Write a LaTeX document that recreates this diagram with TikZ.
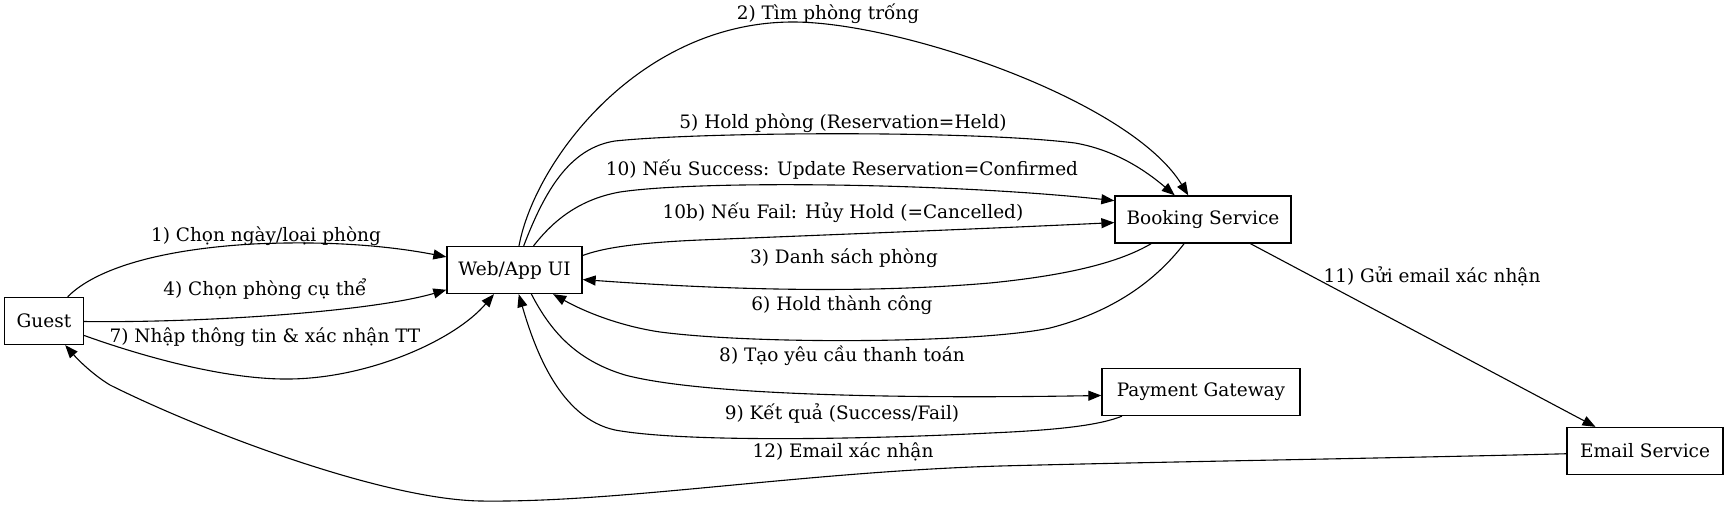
\documentclass[tikz,border=0pt]{standalone}
\usepackage{fontspec}
\setmainfont{DejaVu Serif}
\usetikzlibrary{arrows.meta}
\tikzset{
  box/.style={draw, line width=1.3pt, minimum height=47pt, inner sep=0pt, font=\fontsize{18.5}{20}\selectfont},
  edge/.style={-{Triangle[length=13pt,width=10pt]}, line width=1.1pt},
  lbl/.style={inner sep=0pt, font=\fontsize{18.5}{20}\selectfont}
}
\begin{document}
\begin{tikzpicture}[x=1pt,y=-1pt]
\useasboundingbox (0,0) rectangle (1728,508);
% nodes
\node[box, minimum width=79pt]  (guest)   at (44,321)     {Guest};
\node[box, minimum width=135pt] (web)     at (514.5,270)  {Web/App UI};
\node[box, minimum width=176pt] (booking) at (1203,219.5) {Booking Service};
\node[box, minimum width=198pt] (payment) at (1201,392)   {Payment Gateway};
\node[box, minimum width=156pt] (email)   at (1645,451)   {Email Service};
% edges
\draw[edge] (guest) .. controls (92,272) and (150,250) .. (253,244) .. controls (340,240) and (400,248) .. (web);
\draw[edge] (guest) .. controls (200,323) and (370,312) .. (web);
\draw[edge] (guest) .. controls (130,352) and (220,380) .. (290,379) .. controls (370,378) and (455,340) .. (web);
\draw[edge] (web) .. controls (535,160) and (640,22) .. (793,22) .. controls (900,22) and (1130,100) .. (booking);
\draw[edge] (web) .. controls (545,190) and (570,148) .. (615,141) .. controls (700,132) and (970,130) .. (1075,143) .. controls (1115,150) and (1145,170) .. (booking);
\draw[edge] (web) .. controls (550,225) and (575,200) .. (620,192) .. controls (700,180) and (950,183) .. (booking.168);
\draw[edge] (web.12) .. controls (600,249) and (630,243) .. (700,240) .. controls (850,234) and (1000,228) .. (booking.182);
\draw[edge] (booking.205) .. controls (1120,262) and (1070,275) .. (990,283) .. controls (850,295) and (700,288) .. (web.-8);
\draw[edge] (booking.232) .. controls (1160,275) and (1120,310) .. (1050,328) .. controls (980,343) and (760,345) .. (660,332) .. controls (620,326) and (585,312) .. (web.-32);
\draw[edge] (web.-55) .. controls (550,330) and (575,360) .. (625,375) .. controls (700,395) and (900,399) .. (payment.182);
\draw[edge] (payment.197) .. controls (1100,425) and (1060,430) .. (990,433) .. controls (850,440) and (680,442) .. (615,430) .. controls (560,418) and (535,350) .. (web.-80);
\draw[edge] (booking.-27) -- (email.154);
\draw[edge] (email.182) .. controls (1400,458) and (1150,462) .. (1000,466) .. controls (800,472) and (620,503) .. (480,501) .. controls (380,499) and (200,430) .. (110,385) .. controls (95,376) and (80,362) .. (guest);
% labels
\node[lbl] (l1)  at (266,236) {1) Chọn ngày/loại phòng};
\node[lbl] (l4)  at (265,289) {4) Chọn phòng cụ thể};
\node[lbl] (l7)  at (265,337) {7) Nhập thông tin \& xác nhận TT};
\node[lbl] (l2)  at (828,14)  {2) Tìm phòng trống};
\node[lbl] (l5)  at (843,123) {5) Hold phòng (Reservation=Held)};
\node[lbl] (l10) at (842,170) {10) Nếu Success: Update Reservation=Confirmed};
\node[lbl] (l10b) at (843,213) {10b) Nếu Fail: Hủy Hold (=Cancelled)};
\node[lbl] (l3)  at (844,258) {3) Danh sách phòng};
\node[lbl] (l6)  at (842,305) {6) Hold thành công};
\node[lbl] (l8)  at (842,356) {8) Tạo yêu cầu thanh toán};
\node[lbl] (l9)  at (842,414) {9) Kết quả (Success/Fail)};
\node[lbl] (l11) at (1432,276) {11) Gửi email xác nhận};
\node[lbl] (l12) at (843,452) {12) Email xác nhận};
\end{tikzpicture}
\end{document}
